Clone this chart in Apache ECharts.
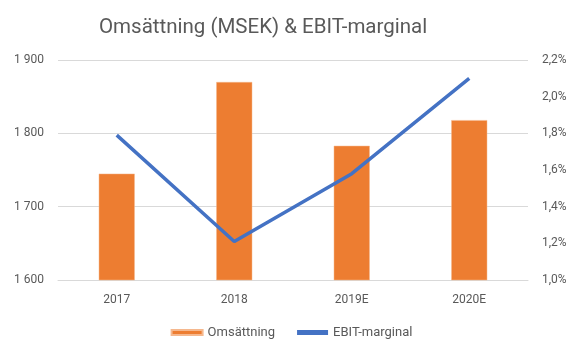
<!DOCTYPE html>
<html><head><meta charset="utf-8">
<script src="https://cdn.jsdelivr.net/npm/echarts@6/dist/echarts.min.js"></script>
<style>html,body{margin:0;padding:0;background:#fff}#c{width:583px;height:356px}</style>
</head><body><div id="c"></div>
<script>
const categories = ['2017', '2018', '2019E', '2020E'];
const omsattning = [1745, 1870, 1783, 1818];
const ebitMarginal = [1.79, 1.21, 1.58, 2.10];
const leftTicks = [1600, 1700, 1800, 1900];
const rightTicks = [1.0, 1.2, 1.4, 1.6, 1.8, 2.0, 2.2];

const font = 'Roboto, "DejaVu Sans", sans-serif';
const chart = echarts.init(document.getElementById('c'));
chart.setOption({
  animation: false,
  title: {text: 'Omsättning (MSEK) & EBIT-marginal', left: 94, top: 12,
    textStyle: {fontFamily: font, fontSize: 20.5, fontWeight: 'normal', color: '#595959'}},
  grid: {left: 58, right: 55, top: 60, bottom: 76},
  legend: {bottom: 12, left: 'center', itemGap: 22, itemWidth: 31, itemHeight: 5,
    textStyle: {fontFamily: font, fontSize: 13, color: '#595959'},
    data: [{name: 'Omsättning', icon: 'rect'}, {name: 'EBIT-marginal', icon: 'rect'}]},
  xAxis: {type: 'category', data: categories,
    axisLine: {lineStyle: {color: '#d9d9d9'}}, axisTick: {show: false},
    axisLabel: {fontFamily: font, fontSize: 12, color: '#595959', margin: 14}},
  yAxis: [
    {type: 'value', min: leftTicks[0], max: leftTicks[leftTicks.length-1], interval: 100,
      axisLine: {show: false}, axisTick: {show: false},
      splitLine: {lineStyle: {color: '#d9d9d9'}},
      axisLabel: {fontFamily: font, fontSize: 12, color: '#595959', margin: 14,
        formatter: v => String(v).replace(/\B(?=(\d{3})+(?!\d))/g, ' ')}},
    {type: 'value', min: rightTicks[0], max: rightTicks[rightTicks.length-1], interval: 0.2,
      axisLine: {show: false}, axisTick: {show: false}, splitLine: {show: false},
      axisLabel: {fontFamily: font, fontSize: 12, color: '#595959', margin: 14,
        formatter: v => v.toFixed(1).replace('.', ',') + '%'}}
  ],
  series: [
    {name: 'Omsättning', type: 'bar', data: omsattning, barWidth: 36,
      itemStyle: {color: '#ED7D31', borderColor: '#f5b88e', borderWidth: 0.5}},
    {name: 'EBIT-marginal', type: 'line', yAxisIndex: 1, data: ebitMarginal,
      symbol: 'none', lineStyle: {color: '#4472C4', width: 3.5}, itemStyle: {color: '#4472C4'}}
  ]
});
</script></body></html>
